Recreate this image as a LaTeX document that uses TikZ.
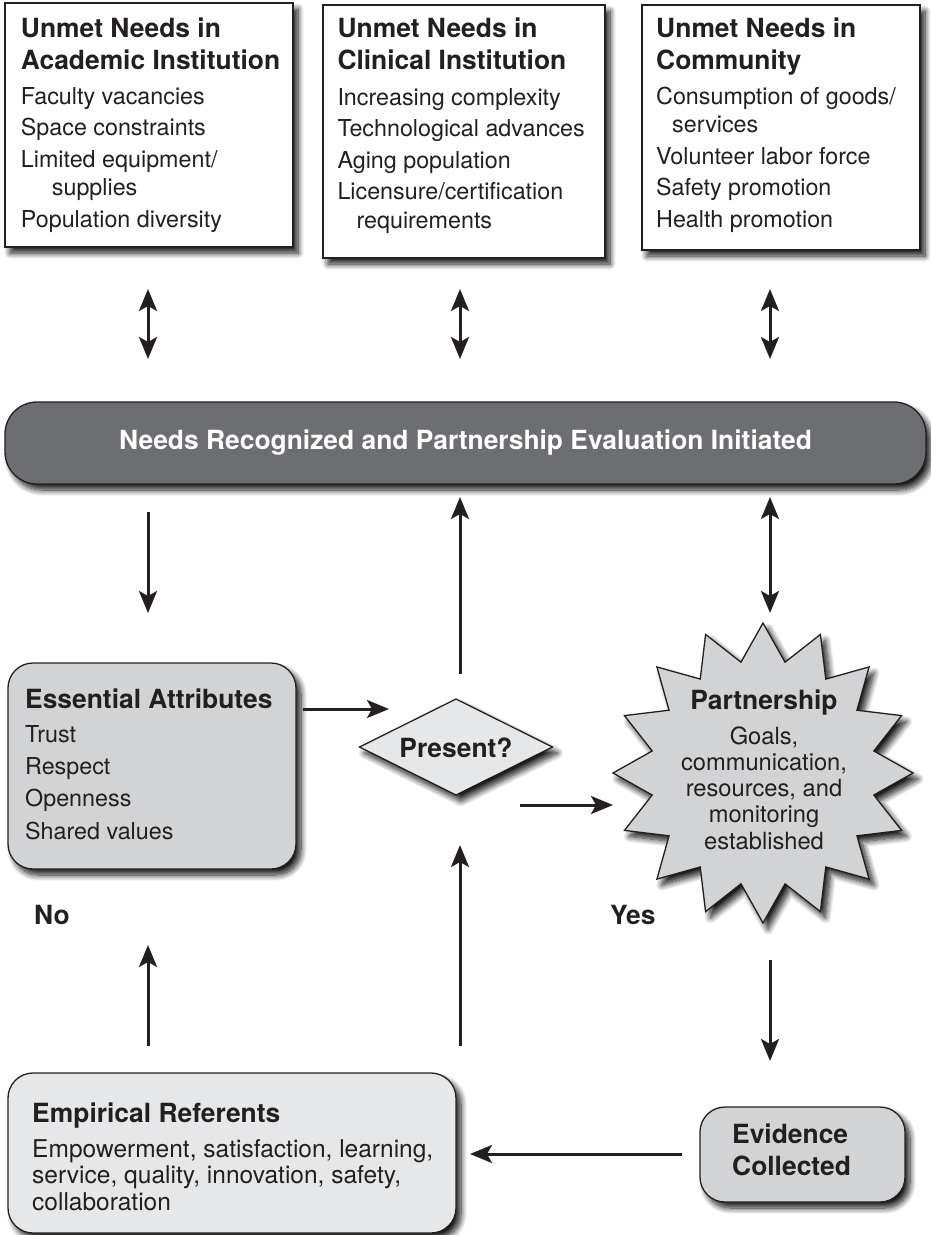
\documentclass[tikz,border=0pt]{standalone}
\usepackage{fontspec}
\setmainfont{TeX Gyre Heros}
\usetikzlibrary{arrows.meta,shadows.blur,calc}

\definecolor{ink}{HTML}{231F20}
\definecolor{bannergray}{HTML}{6D6E71}
\definecolor{midgray}{HTML}{D1D3D4}
\definecolor{palegray}{HTML}{E6E7E8}

\newcommand\dgbody{\fontsize{23.3}{31.5}\selectfont}
\newcommand\dghead{\fontsize{26.4}{32}\selectfont\bfseries}

\tikzset{
  shadowed/.style={blur shadow={shadow xshift=5pt, shadow yshift=-6pt, shadow blur radius=6pt, shadow blur steps=10, shadow opacity=90}},
  boxshape/.style={draw=ink, line width=1.3pt, inner sep=0pt, outer sep=0pt, anchor=north west, shadowed},
  plainbox/.style={boxshape, fill=white},
  roundbox/.style={boxshape, rounded corners=25pt},
  headtxt/.style={text=ink, font=\dghead, align=left, anchor=base west, inner sep=0pt},
  bodytxt/.style={text=ink, font=\dgbody, align=left, anchor=base west, inner sep=0pt},
  arr/.style={draw=ink, line width=3pt, -{Stealth[length=22pt,width=18pt,inset=5pt]}},
  dblarr/.style={draw=ink, line width=3pt, {Stealth[length=22pt,width=18pt,inset=5pt]}-{Stealth[length=22pt,width=18pt,inset=5pt]}},
}

\begin{document}
\begin{tikzpicture}[x=1pt,y=-1pt]
\useasboundingbox (0,0) rectangle (931,1235);

% (multi-line text nodes are placed by the baseline of their LAST line)

% ---------- top boxes ----------
\node[plainbox, minimum width=288pt, minimum height=244pt] (acad) at (5,3) {};
\node[plainbox, minimum width=282pt, minimum height=253pt] (clin) at (323,5) {};
\node[plainbox, minimum width=278pt, minimum height=245pt] (comm) at (642,5) {};

\node[headtxt] (acadT) at (20.7,69) {Unmet Needs in\\Academic Institution};
\node[bodytxt] (acadB) at (20.7,227) {Faculty vacancies\\Space constraints\\Limited equipment/\\[-3pt]\hspace*{31pt}supplies\\Population diversity};

\node[headtxt] (clinT) at (337.3,69) {Unmet Needs in\\Clinical Institution};
\node[bodytxt] (clinB) at (337.3,228) {Increasing complexity\\Technological advances\\Aging population\\Licensure/certification\\[-3pt]\hspace*{19pt}requirements};

\node[headtxt] (commT) at (656,69) {Unmet Needs in\\Community};
\node[bodytxt] (commB) at (656,227) {Consumption of goods/\\[-3pt]\hspace*{16pt}services\\Volunteer labor force\\Safety promotion\\Health promotion};

% ---------- banner ----------
\node[boxshape, fill=bannergray, rounded corners=32pt, minimum width=921pt, minimum height=82pt] (banner) at (5,402) {};
\node[text=white, font=\dghead, inner sep=0pt] (bannerT) at (465.5,443) {Needs Recognized and Partnership Evaluation Initiated};

% ---------- essential attributes ----------
\node[roundbox, fill=midgray, minimum width=288pt, minimum height=206pt] (ess) at (8,663) {};
\node[headtxt] (essT) at (25,708) {Essential Attributes};
\node[bodytxt, font=\fontsize{23.3}{32.3}\selectfont] (essB) at (25,839) {Trust\\Respect\\Openness\\Shared values};

% ---------- diamond ----------
\draw[draw=ink, line width=1.3pt, fill=palegray, shadowed]
  (359.5,747) -- (456,699) -- (552.5,747) -- (456,795) -- cycle;
\node[text=ink, font=\dghead, inner sep=0pt] (present) at (456,748) {Present?};

% ---------- starburst ----------
\draw[draw=ink, line width=1.3pt, fill=midgray, shadowed, line join=miter]
  ($(763,773)+(90:150)$) \foreach \k in {1,...,31} { -- ($(763,773)+({90+11.25*\k}:{ifthenelse(mod(\k,2)==0,150,113)})$) } -- cycle;
\node[text=ink, font=\dghead, inner sep=0pt, anchor=base] (partT) at (764,709) {Partnership};
\node[text=ink, font=\fontsize{23.7}{26.2}\selectfont, align=center, inner sep=0pt, anchor=base] (partB) at (764,849) {Goals,\\communication,\\resources, and\\monitoring\\established};

% ---------- empirical referents ----------
\node[roundbox, fill=palegray, minimum width=448pt, minimum height=160pt] (emp) at (8,1073) {};
\node[headtxt] (empT) at (32,1122) {Empirical Referents};
\node[bodytxt, font=\fontsize{24.5}{26.5}\selectfont] (empB) at (32,1210) {Empowerment, satisfaction, learning,\\service, quality, innovation, safety,\\collaboration};

% ---------- evidence collected ----------
\node[roundbox, fill=midgray, minimum width=205pt, minimum height=95pt] (evid) at (700,1107) {};
\node[headtxt] (evidT) at (732,1175) {Evidence\\Collected};

% ---------- labels ----------
\node[headtxt] (no) at (34,924) {No};
\node[headtxt] (yes) at (610,924) {Yes};

% ---------- connector end points ----------
\coordinate (a1t) at (148,289); \coordinate (a1b) at (148,359);
\coordinate (a2t) at (460,289); \coordinate (a2b) at (460,359);
\coordinate (a3t) at (770,289); \coordinate (a3b) at (770,359);
\coordinate (l1t) at (148,512); \coordinate (l1b) at (148,613);
\coordinate (m1t) at (460,497); \coordinate (m1b) at (460,674);
\coordinate (r1t) at (770,497); \coordinate (r1b) at (770,613);
\coordinate (ea) at (303,709);  \coordinate (eb) at (389,709);
\coordinate (pa) at (520,805);  \coordinate (pb) at (613,805);
\coordinate (u1b) at (148,1046); \coordinate (u1t) at (148,945);
\coordinate (u2b) at (460,1046); \coordinate (u2t) at (460,845);
\coordinate (sa) at (770,960); \coordinate (sb) at (770,1061);
\coordinate (ca) at (682,1154); \coordinate (cb) at (470,1154);

\draw[dblarr] (a1t) -- (a1b);
\draw[dblarr] (a2t) -- (a2b);
\draw[dblarr] (a3t) -- (a3b);
\draw[arr] (l1t) -- (l1b);
\draw[arr] (m1b) -- (m1t);
\draw[dblarr] (r1t) -- (r1b);
\draw[arr] (ea) -- (eb);
\draw[arr] (pa) -- (pb);
\draw[arr] (u1b) -- (u1t);
\draw[arr] (u2b) -- (u2t);
\draw[arr] (sa) -- (sb);
\draw[arr] (ca) -- (cb);
\end{tikzpicture}
\end{document}
